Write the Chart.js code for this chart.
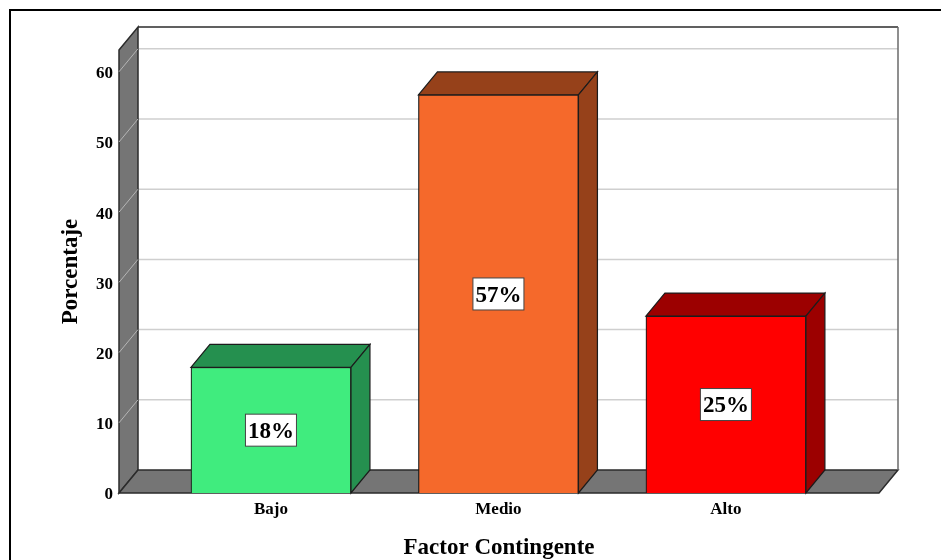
<!DOCTYPE html>
<html>
<head>
<meta charset="utf-8">
<script src="https://cdn.jsdelivr.net/npm/chart.js@4"></script>
<style>
  html, body { margin: 0; padding: 0; background: #fff; overflow: hidden; }
  canvas { display: block; }
</style>
</head>
<body>
<canvas id="factorChart" width="941" height="560"></canvas>
<script>
const categories = ['Bajo', 'Medio', 'Alto'];
const porcentajes = [17.9, 56.7, 25.2];
const etiquetas = ['18%', '57%', '25%'];
const frontColors = ['#40EC7E', '#F5692B', '#FF0000'];
const topColors = ['#25904F', '#96411A', '#9C0000'];
const yTicks = [0, 10, 20, 30, 40, 50, 60];

// fake 3d depth of the plot box
const depthX = 19;
const depthY = 23;
const serif = '"Liberation Serif", "Times New Roman", serif';

function poly(ctx, pts, fill, stroke, lineWidth) {
  ctx.beginPath();
  pts.forEach((p, i) => (i ? ctx.lineTo(p[0], p[1]) : ctx.moveTo(p[0], p[1])));
  ctx.closePath();
  if (fill) {
    ctx.fillStyle = fill;
    ctx.fill();
  }
  if (stroke) {
    ctx.strokeStyle = stroke;
    ctx.lineWidth = lineWidth || 1;
    ctx.stroke();
  }
}

const boxPlugin = {
  id: 'box3d',
  beforeDraw(chart) {
    const ctx = chart.ctx;
    const { left, right, top, bottom } = chart.chartArea;

    ctx.save();
    ctx.fillStyle = '#fff';
    ctx.fillRect(0, 0, chart.width, chart.height);

    // outer frame, only top and left are visible in the picture
    ctx.strokeStyle = '#000';
    ctx.lineWidth = 2;
    ctx.beginPath();
    ctx.moveTo(10, chart.height);
    ctx.lineTo(10, 10);
    ctx.lineTo(chart.width, 10);
    ctx.stroke();

    // gridlines on back wall
    ctx.strokeStyle = '#CFCFCF';
    ctx.lineWidth = 1.5;
    yTicks.slice(1).forEach((t) => {
      const y = chart.scales.y.getPixelForValue(t);
      ctx.beginPath();
      ctx.moveTo(left + depthX, y - depthY);
      ctx.lineTo(right + depthX, y - depthY);
      ctx.stroke();
    });

    // side wall with its part of the gridlines
    poly(ctx, [[left, top], [left + depthX, top - depthY], [left + depthX, bottom - depthY], [left, bottom]], '#757575', '#2b2b2b', 1.5);
    yTicks.slice(1).forEach((t) => {
      const y = chart.scales.y.getPixelForValue(t);
      ctx.strokeStyle = '#B5B5B5';
      ctx.lineWidth = 1;
      ctx.beginPath();
      ctx.moveTo(left, y);
      ctx.lineTo(left + depthX, y - depthY);
      ctx.stroke();
    });

    // floor
    poly(ctx, [[left, bottom], [left + depthX, bottom - depthY], [right + depthX, bottom - depthY], [right, bottom]], '#757575', '#2b2b2b', 1.5);

    // back wall outline
    ctx.strokeStyle = '#2b2b2b';
    ctx.lineWidth = 1.5;
    ctx.beginPath();
    ctx.moveTo(left + depthX, top - depthY);
    ctx.lineTo(right + depthX, top - depthY);
    ctx.stroke();
    ctx.strokeStyle = '#6a6a6a';
    ctx.beginPath();
    ctx.moveTo(right + depthX, top - depthY);
    ctx.lineTo(right + depthX, bottom - depthY);
    ctx.stroke();

    // y tick labels sit a little under their tick in the original
    ctx.fillStyle = '#000';
    ctx.font = 'bold 17px ' + serif;
    ctx.textAlign = 'right';
    ctx.textBaseline = 'middle';
    yTicks.forEach((t) => {
      ctx.fillText(String(t), left - 6, chart.scales.y.getPixelForValue(t) + 2);
    });
    ctx.restore();
  },
  beforeDatasetsDraw(chart) {
    const ctx = chart.ctx;
    ctx.save();
    chart.getDatasetMeta(0).data.forEach((bar, i) => {
      const l = bar.x - bar.width / 2;
      const r = bar.x + bar.width / 2;
      // top face
      poly(ctx, [[l, bar.y], [l + depthX, bar.y - depthY], [r + depthX, bar.y - depthY], [r, bar.y]], topColors[i], '#1c1c1c', 1.2);
      // right face
      poly(ctx, [[r, bar.y], [r + depthX, bar.y - depthY], [r + depthX, bar.base - depthY], [r, bar.base]], topColors[i], '#1c1c1c', 1.2);
    });
    ctx.restore();
  },
  afterDatasetsDraw(chart) {
    const ctx = chart.ctx;
    ctx.save();
    ctx.font = 'bold 23px ' + serif;
    ctx.textAlign = 'center';
    ctx.textBaseline = 'middle';
    chart.getDatasetMeta(0).data.forEach((bar, i) => {
      const w = ctx.measureText(etiquetas[i]).width + 5;
      const h = 32;
      const cy = (bar.y + bar.base) / 2;
      ctx.fillStyle = '#fff';
      ctx.fillRect(bar.x - w / 2, cy - h / 2, w, h);
      ctx.strokeStyle = '#444';
      ctx.lineWidth = 1;
      ctx.strokeRect(bar.x - w / 2, cy - h / 2, w, h);
      ctx.fillStyle = '#000';
      ctx.fillText(etiquetas[i], bar.x, cy + 2);
    });
    ctx.restore();
  },
};

const ctx = document.getElementById('factorChart').getContext('2d');
new Chart(ctx, {
  type: 'bar',
  data: {
    datasets: [
      {
        label: 'Porcentaje',
        data: porcentajes.map((v, i) => ({ x: i, y: v })),
        backgroundColor: frontColors,
        borderColor: '#1c1c1c',
        borderWidth: 1.2,
        barThickness: 160,
      },
    ],
  },
  plugins: [boxPlugin],
  options: {
    responsive: false,
    animation: false,
    layout: { padding: { top: 50, right: 62, bottom: 0, left: 0 } },
    plugins: {
      legend: { display: false },
      tooltip: { enabled: false },
    },
    scales: {
      x: {
        type: 'linear',
        offset: false,
        min: -0.668,
        max: 2.673,
        grid: { display: false, drawTicks: false },
        border: { display: false },
        afterFit(scale) {
          scale.height = 67;
        },
        afterBuildTicks(scale) {
          scale.ticks = categories.map((c, i) => ({ value: i }));
        },
        ticks: {
          autoSkip: false,
          maxRotation: 0,
          padding: 6,
          color: '#000',
          font: { family: serif, size: 17, weight: 'bold' },
          callback: (v) => categories[v],
        },
        title: {
          display: true,
          text: 'Factor Contingente',
          color: '#000',
          padding: { top: 0, bottom: -2 },
          font: { family: serif, size: 23, weight: 'bold', lineHeight: 1.2 },
        },
      },
      y: {
        min: 0,
        max: 63.1,
        grid: { display: false, drawTicks: false },
        border: { display: false },
        afterFit(scale) {
          scale.width = 119;
        },
        ticks: {
          display: false,
          stepSize: 10,
          includeBounds: false,
        },
        title: {
          display: true,
          text: 'Porcentaje',
          color: '#000',
          padding: { top: 57, bottom: 0 },
          font: { family: serif, size: 23, weight: 'bold', lineHeight: 1.2 },
        },
      },
    },
  },
});
</script>
</body>
</html>
